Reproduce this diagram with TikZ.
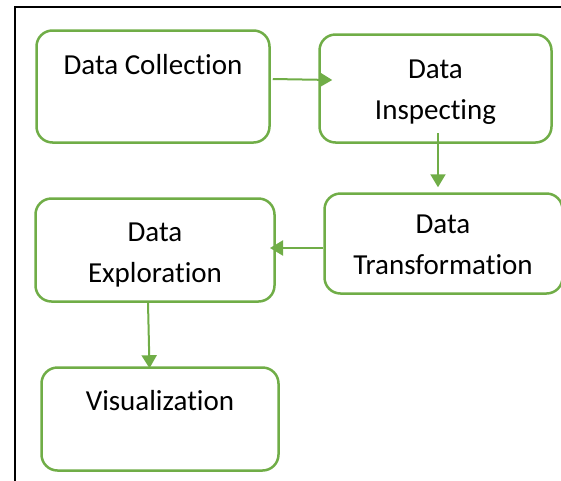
\documentclass[tikz,border=0pt]{standalone}
\usepackage{fontspec}
\setmainfont{Carlito}[Ligatures=NoCommon]
\usepackage{xcolor}
\usepackage{tikz}
\usetikzlibrary{arrows.meta,positioning}
\definecolor{officegreen}{RGB}{112,173,71}
\tikzset{
	stage/.style={draw=officegreen, line width=2.5pt, rounded corners=16pt, fill=white},
	stagetext/.style={inner sep=0pt, font=\fontsize{29}{41}\selectfont, align=center},
	flow/.style={draw=officegreen, line width=2pt, -{Triangle[length=13pt,width=15pt]}}
}

\begin{document}
\begin{tikzpicture}[x=1pt,y=-1pt]
			\useasboundingbox (0,0) rectangle (561,480);
			
			% frame round the figure
			\draw[line width=2pt] (561,6.5) -- (14.5,6.5) -- (14.5,482);
			
			% process stages are drawn.
			\node[stage, minimum width=233pt, minimum height=112pt] (collection) at (153,86.5) {};
			\node[stage, minimum width=232pt, minimum height=108pt] (inspecting) at (435.5,88.5) {};
			\node[stage, minimum width=238pt, minimum height=100pt] (transformation) at (443.5,243.5) {};
			\node[stage, minimum width=239pt, minimum height=103pt] (exploration) at (155,250) {};
			\node[stage, minimum width=237pt, minimum height=103pt] (visualization) at (160,419) {};
			
			\node[stagetext, below=24.5pt of collection.north] (collection-text) {Data Collection};
			\node[stagetext, below=26pt of inspecting.north] (inspecting-text) {Data\\Inspecting};
			\node[stagetext, below=22.5pt of transformation.north, xshift=-0.5pt] (transformation-text) {Data\\Transformation};
			\node[stagetext, below=25pt of exploration.north] (exploration-text) {Data\\Exploration};
			\node[stagetext, below=23.5pt of visualization.north] (visualization-text) {Visualization};
			
			% flow between the stages
			\draw[flow] ([xshift=2pt,yshift=7.5pt]collection.east) -- ([xshift=14pt,yshift=8.5pt]inspecting.west);
			\draw[flow] ([xshift=2.5pt,yshift=10.75pt]inspecting.south) -- ([xshift=-5.5pt,yshift=5pt]transformation.north);
			\draw[flow] ([yshift=-4.5pt]transformation.west) -- ([xshift=-5.75pt,yshift=2pt]exploration.east);
			\draw[flow] ([xshift=-7pt]exploration.south) -- ([xshift=-10.5pt,yshift=-2pt]visualization.north);
			
\end{tikzpicture}
\end{document}
